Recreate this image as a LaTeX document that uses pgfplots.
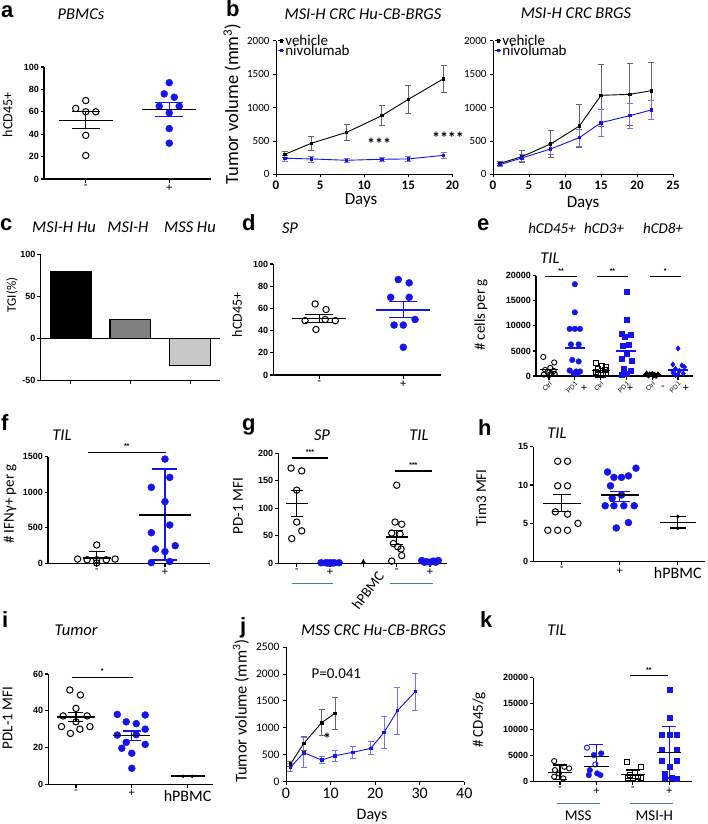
\documentclass[border=0pt]{standalone}
\usepackage{fontspec}
\setmainfont{Liberation Sans}
\newfontfamily\calf{Carlito}
\usepackage{pgfplots}
\pgfplotsset{compat=1.18}
\definecolor{pb}{RGB}{20,20,235}
\definecolor{ul}{RGB}{70,120,200}
\definecolor{eb}{RGB}{100,100,100}
\definecolor{lg}{RGB}{200,200,200}
\newcommand{\fs}[1]{\fontsize{#1}{#1}\selectfont}
\newcommand{\meanline}[4]{\addplot[only marks, mark=-, mark size=#4, mark options={line width=1.2pt, draw=#1}] coordinates {(#2,#3)};}
\newcommand{\errbar}[6]{\addplot[draw=none, mark=none, error bars/.cd, y dir=both, y explicit, error bar style={line width=1.2pt, draw=#1}, error mark options={rotate=90, line width=1.2pt, draw=#1, mark size=#6}] coordinates {(#2,#3) -= (0,#4) += (0,#5)};}
\pgfplotsset{
 base/.style={scale only axis, anchor=south west, clip=false,
   /pgf/number format/assume math mode=true, /pgf/number format/1000 sep={},
   scaled y ticks=false, scaled x ticks=false},
 prism/.style={base, axis lines=left, axis line style={-, line width=1.3pt},
   tick style={black, line width=1.2pt}, tick align=outside, major tick length=3.5pt,
   yticklabel style={font=\bfseries\fs{9}, inner sep=1.5pt},
   xticklabel style={font=\fs{11.5}, inner sep=2pt}},
 ogl/.style={only marks, mark=o, mark size=3.2pt, mark options={line width=1pt, draw=black}},
 bdot/.style={only marks, mark=*, mark size=3.5pt, mark options={draw=pb, fill=pb}},
 curve/.style={base, axis lines=left, axis line style={-, line width=0.8pt},
   tick style={black, line width=0.8pt}, tick align=outside, major tick length=3pt,
   yticklabel style={font=\calf\fs{11}}, xticklabel style={font=\calf\bfseries\fs{13}}},
 leg/.style={legend style={at={(0.01,1.05)}, anchor=north west, draw=none, fill=none,
   font=\calf\fs{15}, row sep=-3pt, inner sep=0pt, nodes={inner sep=0.5pt}},
   legend cell align=left,
   legend image code/.code={\draw[##1, mark repeat=2, mark phase=2] plot coordinates {(0pt,0pt) (3pt,0pt) (6pt,0pt)};}},
 veh/.style={black, line width=0.9pt, mark=square*, mark size=1.3pt,
   error bars/.cd, y dir=both, y explicit, error bar style={eb, line width=0.8pt},
   error mark options={rotate=90, eb, mark size=3pt, line width=0.8pt}},
 niv/.style={pb, line width=0.9pt, mark=square*, mark size=1.3pt,
   error bars/.cd, y dir=both, y explicit, error bar style={pb!60!white, line width=0.8pt},
   error mark options={rotate=90, pb!60!white, mark size=3pt, line width=0.8pt}},
}
\tikzset{
 lett/.style={font=\bfseries\fs{22}, anchor=base west, inner sep=0pt},
 ttl/.style={font=\calf\itshape\fs{16.5}, anchor=base, inner sep=0pt},
 ylab/.style={font=\calf\fs{15}, rotate=90, anchor=center, inner sep=0pt},
}
\begin{document}
\begin{tikzpicture}
\useasboundingbox (0pt,0pt) rectangle (708pt,-824pt);
\fill[white] (0pt,0pt) rectangle (708pt,-824pt);

% ---------- a ----------
\begin{axis}[prism, at={(44pt,-179pt)}, width=167pt, height=112pt,
  xmin=-0.5, xmax=1.5, ymin=0, ymax=100, ytick={0,20,...,100},
  xtick={0,1}, xticklabels={-,+}]
\addplot[ogl] coordinates {(0,70) (-0.12,63) (0,60) (0.12,60) (0,39) (0,21)};
\meanline{black}{0}{52}{27pt}
\errbar{black}{0}{52}{7}{8}{14pt}
\addplot[bdot] coordinates {(1,86) (0.94,76) (1.06,73) (0.88,65) (1.12,65) (1,59) (1,45) (1,32)};
\meanline{black}{1}{62}{27pt}
\errbar{pb}{1}{62}{6.5}{6.5}{14pt}
\end{axis}

% ---------- b left ----------
\begin{axis}[curve, leg, at={(276pt,-174.3pt)}, width=176.4pt, height=133.6pt,
  xmin=0, xmax=20, ymin=0, ymax=2000, xtick={0,5,...,20}, ytick={0,500,...,2000}]
\addplot[veh] coordinates {(1,299) +- (0,40) (4,464) +- (0,105) (8,628) +- (0,115) (12,878) +- (0,150) (15,1122) +- (0,210) (19,1431) +- (0,200)};
\addlegendentry{vehicle}
\addplot[niv] coordinates {(1,240) +- (0,50) (4,230) +- (0,45) (8,210) +- (0,35) (12,225) +- (0,30) (15,230) +- (0,40) (19,284) +- (0,40)};
\addlegendentry{nivolumab}
\node[font=\calf\bfseries\fs{16}] at (axis cs:11.7,460) {***};
\node[font=\calf\bfseries\fs{16}] at (axis cs:19.5,545) {****};
\end{axis}

% ---------- b right ----------
\begin{axis}[curve, leg, at={(493pt,-174.3pt)}, width=180pt, height=133.6pt,
  xmin=0, xmax=25, ymin=0, ymax=2000, xtick={0,5,...,25}, ytick={0,500,...,2000}]
\addplot[veh] coordinates {(1,165) +- (0,30) (4,264) +- (0,90) (8,454) +- (0,200) (12,723) +- (0,320) (15,1182) +- (0,460) (19,1197) +- (0,460) (22,1252) +- (0,430)};
\addlegendentry{vehicle}
\addplot[niv] coordinates {(1,145) +- (0,25) (4,244) +- (0,50) (8,379) +- (0,80) (12,549) +- (0,130) (15,773) +- (0,205) (19,878) +- (0,190) (22,963) +- (0,145)};
\addlegendentry{nivolumab}
\end{axis}

% ---------- c ----------
\begin{axis}[prism, at={(40.7pt,-380.7pt)}, width=179.3pt, height=126.4pt,
  xmin=-0.5, xmax=2.5, ymin=-50, ymax=100, ytick={-50,0,50,100},
  xtick={0,1,2}, xticklabels={,,}]
\addplot[ybar, bar width=40.7pt, bar shift=0pt, fill=black, draw=black, line width=1.2pt] coordinates {(0,80)};
\addplot[ybar, bar width=40.7pt, bar shift=0pt, fill=gray, draw=black, line width=1.2pt] coordinates {(1,23)};
\addplot[ybar, bar width=40.7pt, bar shift=0pt, fill=lg, draw=black, line width=1.2pt] coordinates {(2,-32)};
\addplot[black, line width=1.3pt] coordinates {(-0.5,0) (2.5,0)};
\end{axis}

% ---------- d ----------
\begin{axis}[prism, at={(273.3pt,-375pt)}, width=167.7pt, height=111pt,
  xmin=-0.548, xmax=1.449, ymin=0, ymax=100, ytick={0,20,...,100},
  xtick={0,1}, xticklabels={-,+}]
\addplot[ogl] coordinates {(-0.05,64) (0.08,59) (-0.17,49) (0.19,49) (0.07,50) (-0.04,41)};
\meanline{black}{0}{51}{27pt}
\errbar{black}{0}{51}{3.5}{3.5}{14pt}
\addplot[bdot] coordinates {(0.94,86) (1.07,83) (0.85,70) (1.07,70) (1.14,50) (0.89,45) (1,45) (1,25)};
\meanline{pb}{1}{58.5}{27pt}
\errbar{pb}{1}{58.5}{7}{7.5}{14pt}
\end{axis}

% ---------- e ----------
\begin{axis}[prism, at={(536pt,-376pt)}, width=157pt, height=100.3pt,
  xmin=-0.504, xmax=5.58, ymin=0, ymax=20000, ytick={0,5000,...,20000},
  xtick={0,...,5}, xticklabels={Ctrl,PD1,Ctrl,PD1,Ctrl,PD1},
  xticklabel style={rotate=45, anchor=north east, font=\fs{6.5}, inner sep=1pt}]
\addplot[only marks, mark=o, mark size=2.6pt, mark options={line width=0.9pt, draw=black}] coordinates {(-0.22,3800) (0.2,2700) (0.05,1600) (-0.15,1200) (0.18,1000) (-0.05,800) (0.1,500) (-0.2,300) (0,200) (0.22,400)};
\meanline{black}{0}{1250}{9pt}
\addplot[only marks, mark=*, mark size=2.8pt, mark options={draw=pb, fill=pb}] coordinates {(1,18300) (1,12700) (0.8,9400) (1,9400) (1.2,9400) (0.85,6300) (1.15,6300) (0.9,3200) (1.15,2900) (0.8,1100) (1.05,900) (1.2,900) (0.95,500) (1.1,400)};
\meanline{pb}{1}{5600}{10pt}
\addplot[only marks, mark=square, mark size=2.5pt, mark options={line width=0.9pt, draw=black}] coordinates {(1.8,2600) (2.05,2000) (2.2,1800) (1.9,1500) (2.15,1200) (1.8,900) (2,700) (2.2,500) (1.9,300) (2.1,200)};
\meanline{black}{2}{1100}{9pt}
\addplot[only marks, mark=square*, mark size=2.5pt, mark options={draw=pb, fill=pb}] coordinates {(3,16800) (3,11300) (2.8,8500) (3.15,8300) (2.95,7800) (3.1,6300) (2.85,6000) (3,4500) (2.8,3500) (3.2,3000) (2.9,1500) (3.15,1000) (3,500) (2.8,300)};
\meanline{pb}{3}{5000}{10pt}
\addplot[only marks, mark=diamond*, mark size=2.8pt, mark options={draw=black, fill=black}] coordinates {(3.78,500) (3.9,300) (4,400) (4.1,200) (4.22,300) (3.85,100) (4.05,100) (4.15,50)};
\meanline{black}{4}{240}{9pt}
\addplot[only marks, mark=diamond*, mark size=2.8pt, mark options={draw=pb, fill=pb}] coordinates {(5,5500) (4.8,2300) (5.15,2100) (5.25,1800) (4.9,1400) (5.05,1000) (4.8,700) (5.2,500) (5,300) (4.9,200)};
\meanline{pb}{5}{1200}{10pt}
\draw[line width=1pt] (axis cs:-0.16,19800) -- (axis cs:1.09,19800);
\draw[line width=1pt] (axis cs:1.86,19800) -- (axis cs:3.06,19800);
\draw[line width=1pt] (axis cs:3.91,19800) -- (axis cs:5.12,19800);
\node[font=\bfseries\fs{7}, anchor=south] at (axis cs:0.47,19800) {**};
\node[font=\bfseries\fs{7}, anchor=south] at (axis cs:2.46,19800) {**};
\node[font=\bfseries\fs{7}, anchor=south] at (axis cs:4.5,19800) {*};
\node[font=\fs{11}] at (axis cs:1.36,-2400) {+};
\node[font=\fs{11}] at (axis cs:3.14,-2400) {+};
\node[font=\fs{11}] at (axis cs:4.42,-2400) {-};
\node[font=\fs{11}] at (axis cs:5.3,-2400) {+};
\end{axis}

% ---------- f ----------
\begin{axis}[prism, at={(48pt,-563.3pt)}, width=162pt, height=106.6pt,
  xmin=-0.713, xmax=1.659, ymin=0, ymax=1500, ytick={0,500,1000,1500},
  xtick={0,1}, xticklabels={-,+}]
\addplot[ogl] coordinates {(0,258) (-0.28,60) (-0.14,50) (0,50) (0.14,50) (0.27,60) (0,5)};
\meanline{black}{0}{75}{14pt}
\errbar{black}{0}{75}{75}{90}{8pt}
\addplot[bdot] coordinates {(1,1467) (1.07,1209) (0.8,1069) (1,867) (1.07,539) (0.8,431) (0.86,202) (1,164) (1.15,248) (0.8,10) (1.07,25)};
\meanline{black}{1}{680}{26pt}
\errbar{pb}{1}{687}{640}{640}{12.5pt}
\draw[line width=1.1pt] (axis cs:-0.13,1565) -- (axis cs:1.01,1565);
\node[font=\bfseries\fs{7}, anchor=south] at (axis cs:0.44,1565) {**};
\end{axis}

% ---------- g ----------
\begin{axis}[prism, at={(278.3pt,-563.3pt)}, width=168.4pt, height=110pt,
  xmin=-0.553, xmax=4.5, ymin=0, ymax=200, ytick={0,50,...,200},
  xtick={0,...,4}, xticklabels={-,+,,-,+}]
\addplot[ogl] coordinates {(-0.17,173) (0.15,168) (0,133) (0,75) (0.15,59) (-0.15,45)};
\meanline{black}{0}{109}{11pt}
\errbar{black}{0}{109}{23.5}{23.5}{6pt}
\addplot[bdot] coordinates {(0.73,1) (0.87,1) (1,1) (1.13,1) (1.27,1) (0.93,0.5) (1.07,0.5)};
\addplot[only marks, mark=triangle*, mark size=2.2pt, mark options={draw=black, fill=black}] coordinates {(2,3)};
\addplot[ogl] coordinates {(3,142) (2.95,75) (3.15,71) (2.85,55) (3.1,53) (2.9,36) (3.03,30) (3.13,26) (3.15,14) (2.85,4)};
\meanline{black}{3}{48}{11pt}
\errbar{black}{3}{48}{14}{12}{6pt}
\addplot[bdot] coordinates {(3.75,5) (3.9,3) (4,2) (4.1,4) (4.25,5) (4.17,2) (3.83,2)};
\draw[line width=1.1pt] (axis cs:-0.15,191.5) -- (axis cs:0.94,191.5);
\draw[line width=1.1pt] (axis cs:2.95,167.8) -- (axis cs:4.06,167.8);
\node[font=\bfseries\fs{7}, anchor=south] at (axis cs:0.4,191.5) {***};
\node[font=\bfseries\fs{7}, anchor=south] at (axis cs:3.5,167.8) {***};
\draw[ul, line width=0.8pt] (axis cs:-0.15,-36) -- (axis cs:1.09,-36);
\draw[ul, line width=0.8pt] (axis cs:2.8,-36) -- (axis cs:4.09,-36);
\node[font=\calf\fs{14.5}, rotate=53, anchor=north east, inner sep=0pt] at (axis cs:2.4,-12) {hPBMC};
\end{axis}

% ---------- h ----------
\begin{axis}[prism, at={(533.3pt,-561.7pt)}, width=171.7pt, height=115pt,
  xmin=-0.49, xmax=2.47, ymin=0, ymax=15, ytick={0,5,10,15},
  xtick={0,1,2}, xticklabels={-,+,{\calf\fs{16}hPBMC}}]
\addplot[ogl] coordinates {(-0.07,13.1) (0.1,13.1) (-0.07,9.9) (0.1,9.9) (-0.11,6.5) (0.1,6.2) (0.28,5.0) (-0.24,4.1) (-0.07,4.1) (0.1,4.1)};
\meanline{black}{0}{7.6}{19pt}
\errbar{black}{0}{7.6}{1.0}{1.2}{9pt}
\addplot[bdot] coordinates {(0.79,11.7) (1.28,12.2) (1.15,11.2) (0.9,11.0) (1.03,11.0) (0.84,9.9) (1.03,8.7) (0.87,8.3) (0.75,7.3) (0.9,7.3) (1.07,7.3) (1.25,7.3) (1.15,5.1) (0.94,4.4)};
\meanline{black}{1}{8.7}{19pt}
\errbar{pb}{1}{8.6}{0.7}{0.6}{10pt}
\addplot[only marks, mark=*, mark size=1.5pt, mark options={draw=black, fill=black}] coordinates {(2,5.9) (2,4.35)};
\meanline{black}{2}{5.1}{18pt}
\errbar{black}{2}{5.1}{0.7}{0.75}{8pt}
\end{axis}

% ---------- i ----------
\begin{axis}[prism, at={(48.3pt,-784.3pt)}, width=164.7pt, height=110.3pt,
  xmin=-0.496, xmax=2.455, ymin=0, ymax=60, ytick={0,20,40,60},
  xtick={0,1,2}, xticklabels={-,+,{\calf\fs{16}hPBMC}}]
\addplot[ogl] coordinates {(-0.11,51.3) (0.08,48.6) (0,41.3) (-0.23,37.2) (0.2,37.2) (0,34) (-0.26,31.4) (0.25,31.4) (-0.1,27.7) (0.07,30)};
\meanline{black}{0}{36.6}{19pt}
\errbar{black}{0}{36.6}{2.6}{2.6}{7.5pt}
\addplot[bdot] coordinates {(0.74,38) (1.24,37.7) (0.9,34) (1.08,33) (0.74,26.8) (1.24,30) (1.08,27) (0.82,19.6) (1,16.9) (1.24,21.7) (1,8.7) (0.9,22.8)};
\meanline{black}{1}{26.5}{18.5pt}
\errbar{pb}{1}{26.5}{2.5}{2.5}{9pt}
\addplot[only marks, mark=*, mark size=1.5pt, mark options={draw=black, fill=black}] coordinates {(1.92,4.4) (2.08,4.4)};
\meanline{black}{2}{4.5}{17pt}
\draw[line width=1.1pt] (axis cs:-0.08,58.2) -- (axis cs:1.02,58.2);
\node[font=\bfseries\fs{7}, anchor=south] at (axis cs:0.47,58.2) {*};
\end{axis}

% ---------- j ----------
\begin{axis}[curve, at={(286pt,-781.7pt)}, width=178.3pt, height=134.7pt,
  xmin=0, xmax=40, ymin=0, ymax=2500, xtick={0,10,...,40}, ytick={0,500,...,2500},
  xticklabel style={font=\calf\fs{16}}, yticklabel style={font=\calf\fs{11.5}}]
\addplot[veh] coordinates {(1,328) +- (0,50) (4,712) +- (0,125) (8,1096) +- (0,245) (11,1269) +- (0,300)};
\addplot[niv] coordinates {(1,266) +- (0,70) (4,539) +- (0,280) (8,402) +- (0,70) (11,483) +- (0,100) (15,545) +- (0,110) (19,619) +- (0,120) (22,916) +- (0,300) (25,1319) +- (0,440) (29,1672) +- (0,340)};
\node[font=\calf\fs{15}] at (axis cs:11.3,2000) {P=0.041};
\node[font=\calf\bfseries\fs{16}] at (axis cs:9.2,800) {*};
\end{axis}

% ---------- k ----------
\begin{axis}[prism, at={(533.3pt,-781.7pt)}, width=158.7pt, height=104pt,
  xmin=-0.734, xmax=3.626, ymin=0, ymax=20000, ytick={0,5000,...,20000},
  xtick={0,...,3}, xticklabels={-,+,-,+}]
\addplot[only marks, mark=o, mark size=2.6pt, mark options={line width=0.9pt, draw=black}] coordinates {(-0.16,3970) (0.12,2880) (0.25,2560) (-0.14,2240) (-0.03,1600) (-0.16,960) (0.09,640)};
\meanline{black}{0}{1800}{12pt}
\errbar{black}{0}{1800}{1400}{1400}{7pt}
\addplot[only marks, mark=o, mark size=2.6pt, mark options={line width=0.9pt, draw=pb}] coordinates {(0.74,6540) (0.97,3330)};
\addplot[only marks, mark=*, mark size=2.8pt, mark options={draw=pb, fill=pb}] coordinates {(1.13,5450) (0.93,5130) (0.82,2240) (1.02,1600) (0.79,1280) (1.11,1280)};
\errbar{pb}{1}{4900}{1900}{2300}{7pt}
\meanline{black}{1}{4900}{12.5pt}
\meanline{black}{1}{3000}{12.5pt}
\addplot[only marks, mark=square, mark size=2.5pt, mark options={line width=0.9pt, draw=black}] coordinates {(1.84,3850) (2.21,2760) (2.05,1600) (1.91,1280) (2.14,960) (1.86,770) (2,640) (2.23,640)};
\meanline{black}{2}{1400}{12pt}
\errbar{black}{2}{1400}{840}{840}{7pt}
\addplot[only marks, mark=square*, mark size=2.5pt, mark options={draw=pb, fill=pb}] coordinates {(3,17600) (3,12300) (2.78,9100) (3,9100) (3.21,9100) (2.78,6100) (3.21,6100) (2.78,4000) (3.21,4000) (3,2900) (2.87,1600) (2.87,770) (3.07,770) (3.21,640)};
\errbar{pb}{3}{5640}{4930}{4930}{7pt}
\meanline{black}{3}{5640}{12pt}
\draw[line width=1.1pt] (axis cs:1.92,20400) -- (axis cs:2.96,20400);
\node[font=\bfseries\fs{7}, anchor=south] at (axis cs:2.44,20400) {**};
\draw[ul, line width=0.8pt] (axis cs:-0.09,-4150) -- (axis cs:1.1,-4150);
\draw[ul, line width=0.8pt] (axis cs:1.92,-4150) -- (axis cs:3.1,-4150);
\node[font=\calf\fs{15}, anchor=base] at (axis cs:0.5,-7400) {MSS};
\node[font=\calf\fs{15}, anchor=base] at (axis cs:2.59,-7400) {MSI-H};
\end{axis}

% ---------- panel letters ----------
\node[lett] at (1pt,-18pt) {a};
\node[lett] at (226pt,-17pt) {b};
\node[lett] at (0pt,-230pt) {c};
\node[lett] at (242pt,-230pt) {d};
\node[lett] at (477pt,-230pt) {e};
\node[lett] at (1pt,-430pt) {f};
\node[lett] at (242pt,-430pt) {g};
\node[lett] at (478pt,-435pt) {h};
\node[lett] at (2pt,-627pt) {i};
\node[lett] at (240pt,-633pt) {j};
\node[lett] at (480pt,-627pt) {k};

% ---------- titles ----------
\node[ttl] at (81pt,-20pt) {PBMCs};
\node[ttl] at (363pt,-20pt) {MSI-H CRC Hu-CB-BRGS};
\node[ttl] at (576pt,-19pt) {MSI-H CRC BRGS};
\node[ttl] at (64pt,-232pt) {MSI-H Hu};
\node[ttl] at (128pt,-232pt) {MSI-H};
\node[ttl] at (190pt,-232pt) {MSS Hu};
\node[ttl] at (290pt,-233pt) {SP};
\node[ttl, font=\calf\itshape\fs{15}] at (552pt,-233pt) {hCD45+};
\node[ttl, font=\calf\itshape\fs{15}] at (604pt,-233pt) {hCD3+};
\node[ttl, font=\calf\itshape\fs{15}] at (663pt,-233pt) {hCD8+};
\node[ttl] at (550pt,-263pt) {TIL};
\node[ttl] at (62pt,-440pt) {TIL};
\node[ttl] at (322pt,-440pt) {SP};
\node[ttl] at (419pt,-440pt) {TIL};
\node[ttl] at (557pt,-438pt) {TIL};
\node[ttl] at (76pt,-635pt) {Tumor};
\node[ttl] at (373.5pt,-635pt) {MSS CRC Hu-CB-BRGS};
\node[ttl] at (557pt,-635pt) {TIL};

% ---------- axis labels ----------
\node[ylab, font=\calf\fs{14}] at (7.5pt,-115pt) {hCD45+};
\node[ylab, font=\calf\fs{18.5}] at (232pt,-104pt) {Tumor volume (mm\textsuperscript{3})};
\node[ylab, font=\calf\fs{13}] at (12pt,-295pt) {TGI(\%)};
\node[ylab, font=\calf\fs{14}] at (237pt,-315pt) {hCD45+};
\node[ylab] at (481pt,-315pt) {\# cells per g};
\node[ylab] at (10pt,-504pt) {\# IFNγ+ per g};
\node[ylab] at (238pt,-506pt) {PD-1 MFI};
\node[ylab] at (481pt,-498pt) {Tim3 MFI};
\node[ylab] at (7.5pt,-718pt) {PDL-1 MFI};
\node[ylab, font=\calf\fs{16.5}] at (241pt,-711pt) {Tumor volume (mm\textsuperscript{3})};
\node[ylab] at (479pt,-720pt) {\# CD45/g};
\node[font=\calf\fs{17}] at (361pt,-200pt) {Days};
\node[font=\calf\fs{17}] at (583pt,-203pt) {Days};
\node[font=\calf\fs{16}] at (372pt,-816pt) {Days};
\end{tikzpicture}
\end{document}
